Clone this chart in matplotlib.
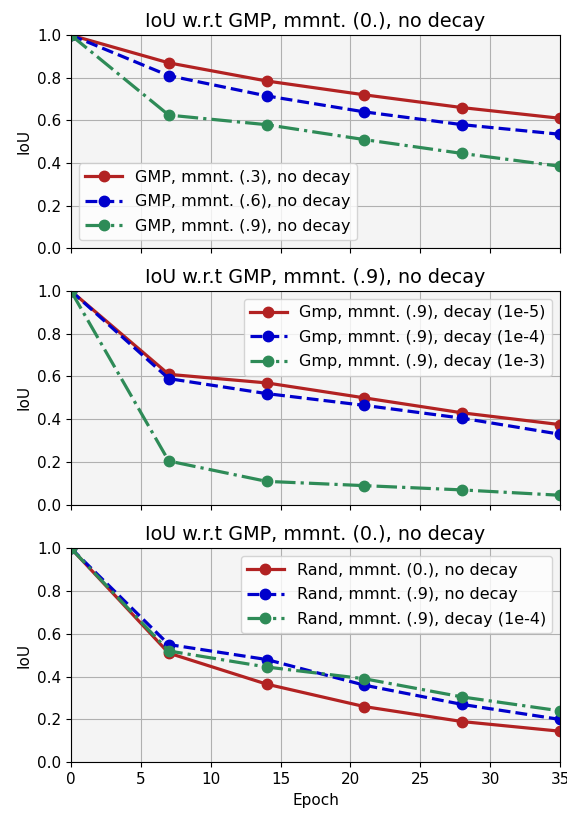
import matplotlib
matplotlib.use("Agg")
import matplotlib.pyplot as plt

epochs = [0, 7, 14, 21, 28, 35]

# top panel
gmp_m3 = [1.0, 0.87, 0.785, 0.72, 0.66, 0.61]
gmp_m6 = [1.0, 0.81, 0.715, 0.64, 0.58, 0.535]
gmp_m9 = [1.0, 0.625, 0.58, 0.51, 0.445, 0.385]

# middle panel
gmp_d5 = [1.0, 0.61, 0.57, 0.50, 0.43, 0.375]
gmp_d4 = [1.0, 0.59, 0.52, 0.465, 0.405, 0.33]
gmp_d3 = [1.0, 0.205, 0.11, 0.09, 0.07, 0.045]

# bottom panel
rand_m0 = [1.0, 0.51, 0.365, 0.26, 0.19, 0.145]
rand_m9 = [1.0, 0.55, 0.48, 0.36, 0.27, 0.20]
rand_m9_d4 = [1.0, 0.52, 0.445, 0.39, 0.305, 0.24]

titles = ["IoU w.r.t GMP, mmnt. (0.), no decay",
          "IoU w.r.t GMP, mmnt. (.9), no decay",
          "IoU w.r.t GMP, mmnt. (0.), no decay"]
labels = [
    ["GMP, mmnt. (.3), no decay", "GMP, mmnt. (.6), no decay", "GMP, mmnt. (.9), no decay"],
    ["Gmp, mmnt. (.9), decay (1e-5)", "Gmp, mmnt. (.9), decay (1e-4)", "Gmp, mmnt. (.9), decay (1e-3)"],
    ["Rand, mmnt. (0.), no decay", "Rand, mmnt. (.9), no decay", "Rand, mmnt. (.9), decay (1e-4)"],
]
series = [[gmp_m3, gmp_m6, gmp_m9],
          [gmp_d5, gmp_d4, gmp_d3],
          [rand_m0, rand_m9, rand_m9_d4]]
legend_loc = ["lower left", "upper right", "upper right"]

colors = ["#b22222", "#0000cc", "#2e8b57"]
styles = ["-", "--", "-."]

fig = plt.figure(figsize=(5.67, 8.17), dpi=100)
boxes = [(0.957, 0.696), (0.644, 0.382), (0.329, 0.067)]
left, right = 0.125, 0.988

for i, (top, bottom) in enumerate(boxes):
    ax = fig.add_axes([left, bottom, right - left, top - bottom])
    ax.set_facecolor("#f4f4f4")
    for ys, lab, c, ls in zip(series[i], labels[i], colors, styles):
        ax.plot(epochs, ys, color=c, linestyle=ls, linewidth=2.3,
                marker="o", markersize=7.5, label=lab)
    ax.set_xlim(0, 35)
    ax.set_ylim(0, 1.0)
    ax.set_yticks([0.0, 0.2, 0.4, 0.6, 0.8, 1.0])
    ax.set_xticks([0, 5, 10, 15, 20, 25, 30, 35])
    ax.grid(True, color="#b0b0b0", linewidth=0.8)
    ax.set_axisbelow(True)
    ax.set_title(titles[i], fontsize=13.8)
    ax.set_ylabel("IoU", fontsize=11)
    ax.tick_params(labelsize=11)
    if i < 2:
        ax.set_xticklabels([])
    else:
        ax.set_xlabel("Epoch", fontsize=11)
    ax.legend(loc=legend_loc[i], fontsize=11.5, handlelength=2.3,
              labelspacing=0.6)

fig.savefig("out.png", dpi=100)
